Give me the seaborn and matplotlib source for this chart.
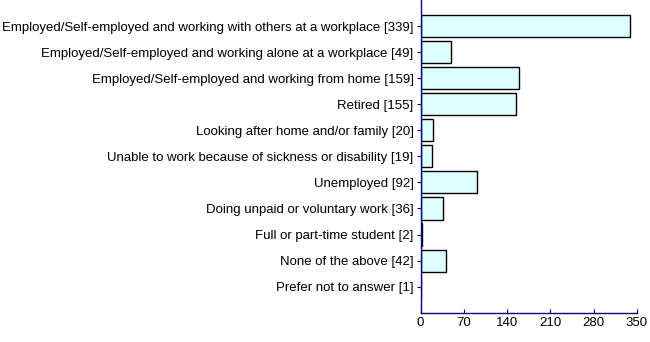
import matplotlib
matplotlib.use("Agg")
import matplotlib.pyplot as plt
import seaborn as sns
import pandas as pd

categories = [
    "Employed/Self-employed and working with others at a workplace",
    "Employed/Self-employed and working alone at a workplace",
    "Employed/Self-employed and working from home",
    "Retired",
    "Looking after home and/or family",
    "Unable to work because of sickness or disability",
    "Unemployed",
    "Doing unpaid or voluntary work",
    "Full or part-time student",
    "None of the above",
    "Prefer not to answer",
]
counts = [339, 49, 159, 155, 20, 19, 92, 36, 2, 42, 1]
x_ticks = [0, 70, 140, 210, 280, 350]

labels = [f"{c} [{n}]" for c, n in zip(categories, counts)]
df = pd.DataFrame({"label": labels, "count": counts})

sns.set_theme(style="white")
plt.rcParams["font.family"] = ["Liberation Sans", "DejaVu Sans"]

fig = plt.figure(figsize=(6.5, 3.42), dpi=100)
ax = fig.add_axes([420.5 / 650, 1 - 312.7 / 342, (637 - 420.5) / 650, 312.7 / 342])

sns.barplot(data=df, x="count", y="label", orient="h", ax=ax,
            color="#ddffff", edgecolor="black", linewidth=1.0, width=0.85,
            saturation=1)

ax.set_xlim(0, 350)
ax.set_ylim(11, -1)
ax.set_xticks(x_ticks)
ax.set_xticklabels([str(t) for t in x_ticks], fontsize=9.5, color="black")
ax.tick_params(axis="y", labelsize=9.5, length=3, width=0.8, color="#000080",
               left=True, pad=2, labelcolor="black")
ax.tick_params(axis="x", direction="in", length=3, width=0.8, color="#000080",
               bottom=True, pad=3)
ax.set_xlabel("")
ax.set_ylabel("")
for s in ["top", "right"]:
    ax.spines[s].set_visible(False)
for s in ["left", "bottom"]:
    ax.spines[s].set_color("#000080")
    ax.spines[s].set_linewidth(1.0)

fig.savefig("out.png", dpi=100)
